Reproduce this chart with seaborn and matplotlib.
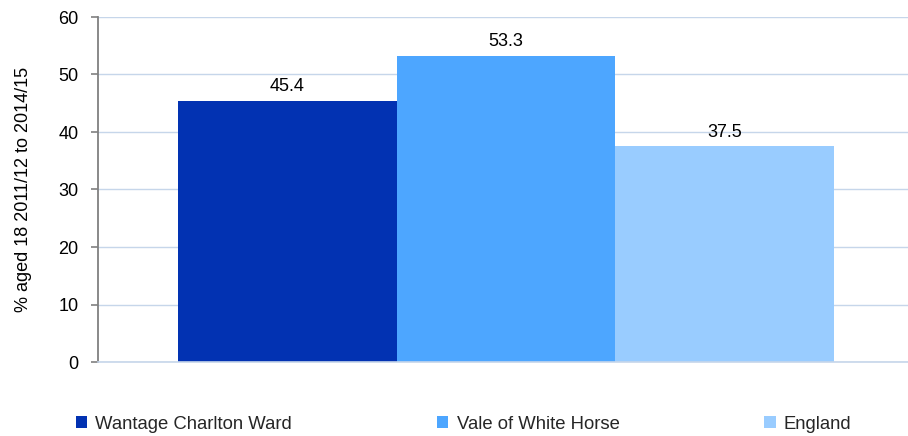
import matplotlib
matplotlib.use("Agg")
import matplotlib.pyplot as plt
import seaborn as sns
import pandas as pd
from matplotlib.patches import Patch

categories = ["Wantage Charlton Ward", "Vale of White Horse", "England"]
values = [45.4, 53.3, 37.5]
colors = ["#0232B2", "#4DA6FF", "#99CCFF"]
ylabel = "% aged 18 2011/12 to 2014/15"
yticks = [0, 10, 20, 30, 40, 50, 60]

sns.set_theme(style="white")
plt.rcParams['font.family'] = ['Liberation Sans', 'DejaVu Sans']

df = pd.DataFrame({"area": categories, "value": values})

fig = plt.figure(figsize=(9.08, 4.36), dpi=100)
ax = fig.add_axes([98/908, 1-362/436, 810/908, 345/436])

sns.barplot(data=df, x="area", y="value", hue="area", palette=colors,
            width=1.0, ax=ax, legend=False, saturation=1, linewidth=0)

for c, v in zip(ax.containers, values):
    ax.bar_label(c, labels=[f"{v:.1f}"], padding=4, fontsize=13, color="#000000")

ax.set_xlim(-0.865, 2.838)
ax.set_ylim(0, 60)
ax.set_yticks(yticks)
ax.set_yticklabels([str(t) for t in yticks], fontsize=13, color="#000000")
ax.set_xticks([])
ax.set_xlabel("")
ax.set_ylabel(ylabel, fontsize=13, labelpad=19, color="#000000")
ax.yaxis.grid(True, color="#C6D6EA", linewidth=1.0)
ax.set_axisbelow(True)
for s in ["top", "right"]:
    ax.spines[s].set_visible(False)
ax.spines["bottom"].set_color("#C6D6EA")
ax.spines["bottom"].set_linewidth(1.2)
ax.spines["left"].set_color("#808080")
ax.spines["left"].set_linewidth(1.3)
ax.tick_params(axis="y", left=True, length=5, width=1.2, color="#808080", pad=9)

handles = [Patch(facecolor=c, edgecolor="none") for c in colors]
fig.legend(handles, categories, loc="center left", bbox_to_anchor=(76/908, 1-424/436),
           ncol=3, frameon=False, fontsize=13.3, handlelength=0.6, handleheight=0.6,
           handletextpad=0.45, columnspacing=7.85, borderaxespad=0, borderpad=0)

fig.savefig("out.png", dpi=100)
